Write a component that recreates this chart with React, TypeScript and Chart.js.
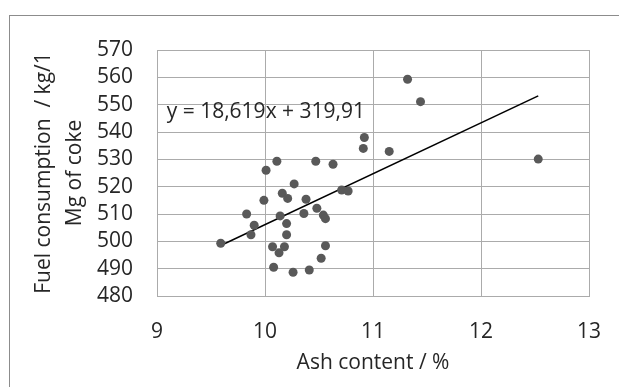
import React, { useEffect, useRef } from "react";
import { Chart, registerables } from "chart.js";

Chart.register(...registerables);

const ashContent = [
  11.32, 11.44, 10.92, 10.91, 11.15, 10.01, 10.11, 10.47, 10.63, 10.27,
  10.16, 10.21, 10.38, 9.99, 10.71, 10.77, 10.48, 9.83, 10.14, 10.36,
  10.54, 10.56, 9.90, 10.20, 9.87, 10.20, 9.59, 10.07, 10.18, 10.13,
  10.56, 10.52, 10.08, 10.26, 10.41, 12.53,
];
const fuelConsumption = [
  559.3, 551.1, 538.0, 534.0, 532.9, 526.0, 529.3, 529.3, 528.2, 521.0,
  517.6, 515.7, 515.4, 515.0, 518.8, 518.4, 512.1, 510.0, 509.3, 510.2,
  509.6, 508.3, 505.9, 506.5, 502.4, 502.4, 499.3, 498.0, 498.0, 495.8,
  498.4, 493.8, 490.5, 488.7, 489.5, 530.1,
];

const trendSlope = 18.619;
const trendIntercept = 319.91;
const equationLabel = "y = 18,619x + 319,91";
const xTitle = "Ash content / %";
const yTitle = ["Fuel consumption  / kg/1", "Mg of coke"];

const FONT = "'Open Sans', sans-serif";
const TEXT = "#262626";
const GRID = "#ababab";

export default function App() {
  const ref = useRef<HTMLCanvasElement>(null);

  useEffect(() => {
    const xs = ashContent;
    const minX = Math.min(...xs);
    const maxX = Math.max(...xs);
    const trend = [minX, maxX].map((x) => ({ x, y: trendSlope * x + trendIntercept }));
    const points = ashContent.map((x, i) => ({ x, y: fuelConsumption[i] }));

    const equationPlugin = {
      id: "equation",
      afterDatasetsDraw(chart: any) {
        const { ctx, scales } = chart;
        const px = scales.x.getPixelForValue(9.09);
        const py = scales.y.getPixelForValue(547.3);
        ctx.save();
        ctx.font = `21px ${FONT}`;
        ctx.fillStyle = TEXT;
        ctx.textAlign = "left";
        ctx.textBaseline = "middle";
        ctx.fillText(equationLabel, px, py);
        ctx.restore();
      },
    };

    const chart = new Chart(ref.current!, {
      type: "scatter",
      data: {
        datasets: [
          {
            data: points,
            backgroundColor: "#595959",
            borderWidth: 0,
            pointRadius: 4.5,
            pointHoverRadius: 4.5,
          },
          {
            type: "line",
            data: trend,
            borderColor: "#000000",
            borderWidth: 1.5,
            pointRadius: 0,
            showLine: true,
            fill: false,
          } as any,
        ],
      },
      options: {
        animation: false,
        responsive: false,
        events: [],
        layout: { padding: { left: 0, top: 50, right: 30, bottom: 0 } },
        plugins: { legend: { display: false }, tooltip: { enabled: false } },
        scales: {
          x: {
            type: "linear",
            min: 9,
            max: 13,
            afterFit: (s: any) => {
              s.height = 91;
              s.paddingLeft = 0;
              s.paddingRight = 0;
            },
            ticks: {
              stepSize: 1,
              autoSkip: false,
              maxRotation: 0,
              padding: 23,
              color: TEXT,
              font: { family: FONT, size: 21 },
            },
            grid: { color: GRID, lineWidth: 1, drawTicks: false },
            border: { color: GRID },
            title: {
              display: true,
              text: xTitle,
              color: TEXT,
              font: { family: FONT, size: 21, lineHeight: 1.2 },
              padding: { top: 0, bottom: 11 },
            },
          },
          y: {
            type: "linear",
            min: 480,
            max: 570,
            afterFit: (s: any) => {
              s.width = 157;
              s.paddingTop = 0;
              s.paddingBottom = 0;
            },
            ticks: {
              stepSize: 10,
              autoSkip: false,
              padding: 24,
              color: TEXT,
              font: { family: FONT, size: 21 },
            },
            grid: { color: GRID, lineWidth: 1, drawTicks: false },
            border: { color: GRID },
            title: {
              display: true,
              text: yTitle,
              color: TEXT,
              font: { family: FONT, size: 21, lineHeight: 1.5 },
              padding: { top: 28, bottom: 0 },
            },
          },
        },
      },
      plugins: [equationPlugin],
    });
    return () => chart.destroy();
  }, []);

  return (
    <div
      style={{
        position: "fixed",
        left: 0,
        top: 0,
        width: 619,
        height: 387,
        overflow: "hidden",
        background: "#ffffff",
      }}
    >
      <div
        style={{
          position: "absolute",
          left: 9,
          top: 15,
          width: 700,
          height: 500,
          border: "1px solid #8c8c8c",
        }}
      />
      <canvas
        ref={ref}
        width={619}
        height={387}
        style={{ position: "absolute", left: 0, top: 0, width: 619, height: 387 }}
      />
    </div>
  );
}
